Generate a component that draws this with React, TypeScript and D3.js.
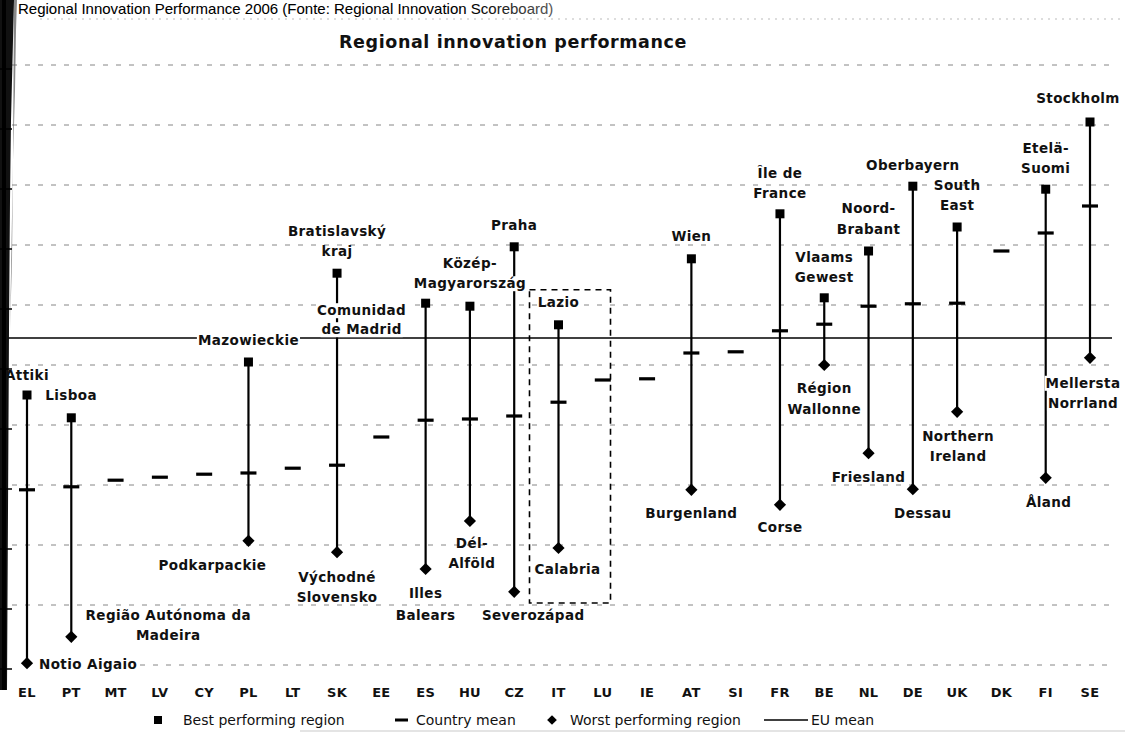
import React, { useEffect, useRef } from "react";
import * as d3 from "d3";

const countries = ["EL","PT","MT","LV","CY","PL","LT","SK","EE","ES","HU","CZ","IT","LU","IE","AT","SI","FR","BE","NL","DE","UK","DK","FI","SE"];
const bestValues = [0.450,0.412,null,null,null,0.505,null,0.653,null,0.603,0.598,0.697,0.567,null,null,0.677,null,0.752,0.612,0.690,0.798,0.730,null,0.793,0.905];
const meanValues = [0.292,0.297,0.308,0.313,0.318,0.320,0.328,0.333,0.380,0.408,0.410,0.415,0.438,0.475,0.477,0.520,0.522,0.557,0.568,0.598,0.602,0.603,0.690,0.720,0.765];
const worstValues = [0.003,0.047,null,null,null,0.207,null,0.188,null,0.160,0.240,0.122,0.195,null,null,0.292,null,0.267,0.500,0.353,0.293,0.422,null,0.312,0.512];
const bestRegions = ["Attiki","Lisboa",null,null,null,"Mazowieckie",null,"Bratislavský kraj",null,"Comunidad de Madrid","Közép-Magyarország","Praha","Lazio",null,null,"Wien",null,"Île de France","Vlaams Gewest","Noord-Brabant","Oberbayern","South East",null,"Etelä-Suomi","Stockholm"];
const worstRegions = ["Notio Aigaio","Região Autónoma da Madeira",null,null,null,"Podkarpackie",null,"Východné Slovensko",null,"Illes Balears","Dél-Alföld","Severozápad","Calabria",null,null,"Burgenland",null,"Corse","Région Wallonne","Friesland","Dessau","Northern Ireland",null,"Åland","Mellersta Norrland"];
const euMean = 0.545;
const gridValues = [0,0.1,0.2,0.3,0.4,0.5,0.6,0.7,0.8,0.9,1.0];
const highlightCountry = "IT";
const chartTitle = "Regional innovation performance";
const headerText = "Regional Innovation Performance 2006 (Fonte: Regional Innovation Scoreboard)";
const legendLabels = ["Best performing region","Country mean","Worst performing region","EU mean"];

// label layout: offsets from the marker (dx, dy of first baseline), lines, anchor
type Lay = { lines: string[]; dx: number; dy: number; lh?: number; anchor?: string; bg?: boolean };
const labelLayout: Record<string, Lay> = {
  "Attiki": { lines: ["Attiki"], dx: -22, dy: -15, anchor: "start" },
  "Notio Aigaio": { lines: ["Notio Aigaio"], dx: 12, dy: 6, anchor: "start" },
  "Lisboa": { lines: ["Lisboa"], dx: -26, dy: -18, anchor: "start" },
  "Região Autónoma da Madeira": { lines: ["Região Autónoma da", "Madeira"], dx: 97, dy: -17, lh: 20 },
  "Mazowieckie": { lines: ["Mazowieckie"], dx: 0, dy: -17, bg: true },
  "Podkarpackie": { lines: ["Podkarpackie"], dx: -36, dy: 29 },
  "Bratislavský kraj": { lines: ["Bratislavský", "kraj"], dx: 0, dy: -37, lh: 20 },
  "Východné Slovensko": { lines: ["Východné", "Slovensko"], dx: 0, dy: 30, lh: 20 },
  "Comunidad de Madrid": { lines: ["Comunidad", "de Madrid"], dx: -64, dy: 12, lh: 19, bg: true },
  "Illes Balears": { lines: ["Illes", "Balears"], dx: 0, dy: 29, lh: 22 },
  "Közép-Magyarország": { lines: ["Közép-", "Magyarország"], dx: 0, dy: -38, lh: 20, bg: true },
  "Dél-Alföld": { lines: ["Dél-", "Alföld"], dx: 2, dy: 27, lh: 20 },
  "Praha": { lines: ["Praha"], dx: 0, dy: -17 },
  "Severozápad": { lines: ["Severozápad"], dx: 19, dy: 28 },
  "Lazio": { lines: ["Lazio"], dx: 0, dy: -18 },
  "Calabria": { lines: ["Calabria"], dx: 9, dy: 26 },
  "Wien": { lines: ["Wien"], dx: 0, dy: -18 },
  "Burgenland": { lines: ["Burgenland"], dx: 0, dy: 28 },
  "Île de France": { lines: ["Île de", "France"], dx: 0, dy: -36, lh: 20 },
  "Corse": { lines: ["Corse"], dx: 0, dy: 27 },
  "Vlaams Gewest": { lines: ["Vlaams", "Gewest"], dx: 0, dy: -36, lh: 20 },
  "Région Wallonne": { lines: ["Région", "Wallonne"], dx: 0, dy: 28, lh: 21 },
  "Noord-Brabant": { lines: ["Noord-", "Brabant"], dx: 0, dy: -38, lh: 21 },
  "Friesland": { lines: ["Friesland"], dx: 0, dy: 29 },
  "Oberbayern": { lines: ["Oberbayern"], dx: 0, dy: -16 },
  "Dessau": { lines: ["Dessau"], dx: 10, dy: 29 },
  "South East": { lines: ["South", "East"], dx: 0, dy: -37, lh: 20 },
  "Northern Ireland": { lines: ["Northern", "Ireland"], dx: 1, dy: 29, lh: 20 },
  "Etelä-Suomi": { lines: ["Etelä-", "Suomi"], dx: 0, dy: -36, lh: 20 },
  "Åland": { lines: ["Åland"], dx: 3, dy: 29 },
  "Stockholm": { lines: ["Stockholm"], dx: -12, dy: -19 },
  "Mellersta Norrland": { lines: ["Mellersta", "Norrland"], dx: -7, dy: 30, lh: 20, bg: true },
};

const W = 1125;
const H = 737;
const FONT = "'DejaVu Sans', Verdana, sans-serif";

export default function App() {
  const ref = useRef<SVGSVGElement>(null);

  useEffect(() => {
    const svg = d3.select(ref.current);
    svg.selectAll("*").remove();

    const x = d3.scalePoint<string>().domain(countries).range([27, 1090]);
    const y = d3.scaleLinear().domain([0, 1]).range([665, 65]);

    const defs = svg.append("defs");
    const grad = defs.append("linearGradient").attr("id", "fade").attr("gradientUnits", "userSpaceOnUse")
      .attr("x1", 470).attr("x2", 680).attr("y1", 0).attr("y2", 0);
    grad.append("stop").attr("offset", 0).attr("stop-color", "#000");
    grad.append("stop").attr("offset", 1).attr("stop-color", "#ddd");

    svg.append("rect").attr("width", W).attr("height", H).attr("fill", "#fff");

    // header
    svg.append("text").attr("x", 18).attr("y", 14).attr("font-family", "'Liberation Sans', Arial, sans-serif")
      .attr("font-size", 15).attr("fill", "url(#fade)").text(headerText);
    svg.append("line").attr("x1", 40).attr("x2", W).attr("y1", 19).attr("y2", 19)
      .attr("stroke", "#aaa").attr("stroke-dasharray", "2,5").attr("stroke-width", 0.8);

    // title
    svg.append("text").attr("x", 513).attr("y", 48).attr("text-anchor", "middle")
      .attr("font-family", FONT).attr("font-weight", "bold").attr("font-size", 17.5)
      .attr("letter-spacing", 0.6).attr("fill", "#111").text(chartTitle);

    // gridlines
    svg.append("g").selectAll("line").data(gridValues).join("line")
      .attr("x1", (d) => (d === 0 ? 140 : 12)).attr("x2", 1112)
      .attr("y1", (d) => y(d)).attr("y2", (d) => y(d))
      .attr("stroke", "#555").attr("stroke-width", 1).attr("stroke-dasharray", "5,8").attr("opacity", 0.7);

    // EU mean line
    svg.append("line").attr("x1", 0).attr("x2", 1112).attr("y1", y(euMean)).attr("y2", y(euMean))
      .attr("stroke", "#000").attr("stroke-width", 1.6);

    const idx = countries.map((_, i) => i);
    const ranged = idx.filter((i) => bestValues[i] != null && worstValues[i] != null);

    // range lines
    svg.append("g").selectAll("line").data(ranged).join("line")
      .attr("x1", (i) => x(countries[i])!).attr("x2", (i) => x(countries[i])!)
      .attr("y1", (i) => y(bestValues[i]!)).attr("y2", (i) => y(worstValues[i]!))
      .attr("stroke", "#000").attr("stroke-width", 2.2);

    // labels
    const lg = svg.append("g");
    const placeLabel = (name: string | null, cx: number, cy: number) => {
      if (!name) return;
      const lay = labelLayout[name];
      if (!lay) return;
      lay.lines.forEach((ln, k) => {
        const t = lg.append("text")
          .attr("x", cx + lay.dx).attr("y", cy + lay.dy + k * (lay.lh || 20))
          .attr("text-anchor", lay.anchor || "middle")
          .attr("font-family", FONT).attr("font-weight", "bold").attr("font-size", 13.5)
          .attr("letter-spacing", 0.4).attr("fill", "#111").text(ln);
        if (lay.bg) {
          const b = (t.node() as SVGTextElement).getBBox();
          lg.insert("rect", () => t.node() as any)
            .attr("x", b.x - 1).attr("y", b.y + 1).attr("width", b.width + 2).attr("height", b.height - 1)
            .attr("fill", "#fff");
        }
      });
    };
    idx.forEach((i) => {
      const cx = x(countries[i])!;
      if (bestValues[i] != null) placeLabel(bestRegions[i], cx, y(bestValues[i]!));
      if (worstValues[i] != null) placeLabel(worstRegions[i], cx, y(worstValues[i]!));
    });

    // country means
    svg.append("g").selectAll("rect").data(idx).join("rect")
      .attr("x", (i) => x(countries[i])! - 8).attr("y", (i) => y(meanValues[i]) - 1.6)
      .attr("width", 16).attr("height", 3.2).attr("fill", "#000");

    // best squares
    svg.append("g").selectAll("rect").data(idx.filter((i) => bestValues[i] != null)).join("rect")
      .attr("x", (i) => x(countries[i])! - 4.5).attr("y", (i) => y(bestValues[i]!) - 4.5)
      .attr("width", 9).attr("height", 9).attr("fill", "#000");

    // worst diamonds
    const diamond = d3.symbol().type(d3.symbolDiamond2).size(95);
    svg.append("g").selectAll("path").data(idx.filter((i) => worstValues[i] != null)).join("path")
      .attr("transform", (i) => `translate(${x(countries[i])},${y(worstValues[i]!)})`)
      .attr("d", diamond() as string).attr("fill", "#000");

    // highlight box around IT
    const hi = countries.indexOf(highlightCountry);
    const hx = x(highlightCountry)!;
    const bTop = y(bestValues[hi]!) - 35;
    const bBot = y(worstValues[hi]!) + 55;
    svg.append("rect").attr("x", hx - 29).attr("y", bTop).attr("width", 81).attr("height", bBot - bTop)
      .attr("fill", "none").attr("stroke", "#000").attr("stroke-width", 1.6).attr("stroke-dasharray", "6,5");

    // country axis labels
    svg.append("g").selectAll("text").data(countries).join("text")
      .attr("x", (d) => x(d)!).attr("y", 697).attr("text-anchor", "middle")
      .attr("font-family", FONT).attr("font-weight", "bold").attr("font-size", 13)
      .attr("letter-spacing", 0.3).attr("fill", "#111").text((d) => d);

    // legend
    const ly = 720;
    const leg = svg.append("g").attr("font-family", FONT).attr("font-size", 14).attr("fill", "#111");
    leg.append("rect").attr("x", 154).attr("y", ly - 4).attr("width", 8).attr("height", 8).attr("fill", "#000");
    leg.append("text").attr("x", 183).attr("y", ly + 5).text(legendLabels[0]);
    leg.append("rect").attr("x", 395).attr("y", ly - 1.5).attr("width", 13).attr("height", 3).attr("fill", "#000");
    leg.append("text").attr("x", 416).attr("y", ly + 5).text(legendLabels[1]);
    leg.append("path").attr("transform", `translate(552,${ly})`).attr("d", d3.symbol().type(d3.symbolDiamond2).size(60)() as string).attr("fill", "#000");
    leg.append("text").attr("x", 570).attr("y", ly + 5).text(legendLabels[2]);
    leg.append("line").attr("x1", 764).attr("x2", 808).attr("y1", ly).attr("y2", ly).attr("stroke", "#000").attr("stroke-width", 1.4);
    leg.append("text").attr("x", 811).attr("y", ly + 5).text(legendLabels[3]);
    svg.append("line").attr("x1", 300).attr("x2", W).attr("y1", 731).attr("y2", 731)
      .attr("stroke", "#bbb").attr("stroke-width", 0.8);

    // scanned dark left edge with axis
    svg.append("path").attr("d", "M0,0 L14,0 L13,40 L11,120 L10,200 L9,330 L7,690 L0,690 Z")
      .attr("fill", "#111");
    svg.append("path").attr("d", "M14,0 L17,0 L16,30 L15,90 L13,160 L12,260 L10,330 L13,160 Z")
      .attr("fill", "#555").attr("opacity", 0.7);
    svg.append("line").attr("x1", 4).attr("x2", 4).attr("y1", 0).attr("y2", 690).attr("stroke", "#000").attr("stroke-width", 4);
    svg.append("g").selectAll("line").data(gridValues).join("line")
      .attr("x1", 0).attr("x2", 12).attr("y1", (d) => y(d) + 4).attr("y2", (d) => y(d) + 4)
      .attr("stroke", "#000").attr("stroke-width", 1.5);
  }, []);

  return (
    <div style={{ position: "absolute", left: 0, top: 0 }}>
      <svg ref={ref} width={W} height={H} style={{ display: "block" }} />
    </div>
  );
}
